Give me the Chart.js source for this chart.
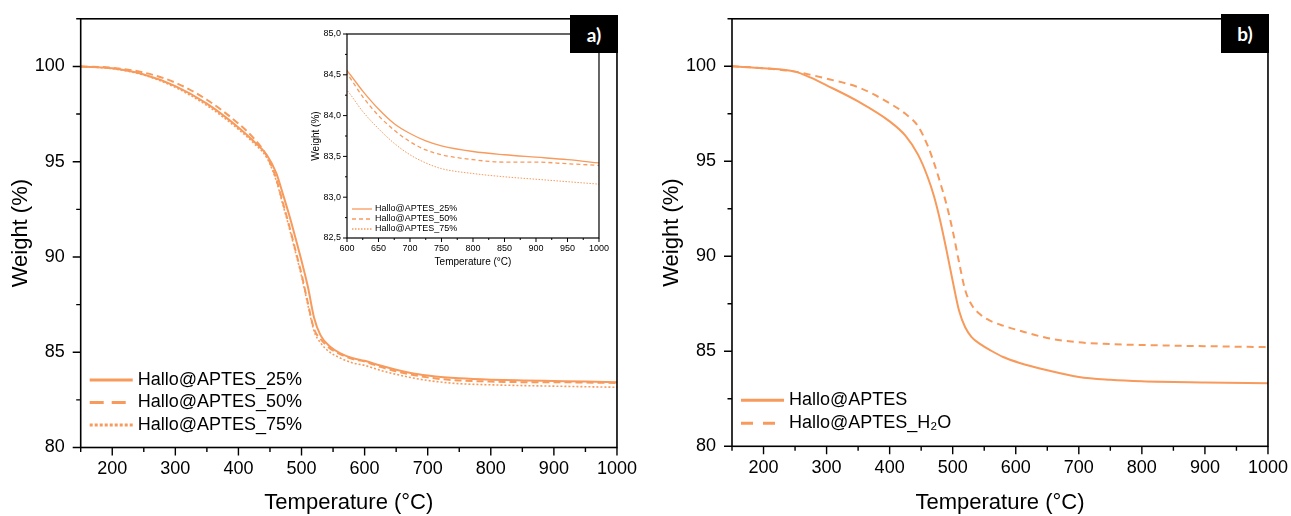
<!DOCTYPE html>
<html>
<head>
<meta charset="utf-8">
<script src="https://cdn.jsdelivr.net/npm/chart.js@4/dist/chart.umd.min.js"></script>
<style>
    body { margin: 0; background: #fff; }
    #wrap { position: relative; width: 1291px; height: 516px; overflow: hidden; }
    canvas { position: absolute; }
    .tag {
        position: absolute; background: #000; color: #fff;
        font: bold 19px Lato, 'Open Sans', sans-serif;
        display: flex; align-items: center; justify-content: center;
    }
</style>
</head>
<body>
<div id="wrap">
    <canvas id="chartA" width="640" height="516" style="left:0;top:0"></canvas>
    <canvas id="chartB" width="641" height="516" style="left:650px;top:0"></canvas>
    <canvas id="inset" width="310" height="250" style="left:300px;top:20px"></canvas>
    <div class="tag" style="left:570px;top:15px;width:48px;height:38px">a)</div>
    <div class="tag" style="left:1221px;top:14px;width:48px;height:39px">b)</div>
</div>
<script>
// a) Hallo@APTES loadings
const tempA = [150, 200, 250, 300, 350, 400, 425, 445, 460, 470, 480, 490, 500, 510, 520, 530, 545, 560, 580, 600, 625, 650, 675, 700, 725, 750, 800, 850, 900, 950, 1000];
const w25 = [100, 99.9, 99.58, 98.97, 98.05, 96.8, 96.05, 95.35, 94.4, 93.35, 92.25, 91.05, 89.8, 88.45, 86.8, 85.9, 85.3, 84.97, 84.7, 84.55, 84.3, 84.08, 83.9, 83.78, 83.69, 83.63, 83.56, 83.52, 83.49, 83.46, 83.42];
const w50 = [100, 99.93, 99.68, 99.15, 98.25, 97.0, 96.2, 95.3, 94.1, 92.9, 91.7, 90.4, 89.1, 87.6, 86.2, 85.7, 85.2, 84.92, 84.65, 84.51, 84.23, 84.0, 83.82, 83.68, 83.58, 83.52, 83.46, 83.43, 83.43, 83.41, 83.39];
const w75 = [100, 99.88, 99.55, 98.9, 97.95, 96.7, 95.95, 95.2, 94.0, 92.8, 91.6, 90.3, 89.0, 87.5, 86.1, 85.5, 85.0, 84.72, 84.45, 84.31, 84.05, 83.84, 83.66, 83.52, 83.42, 83.35, 83.29, 83.25, 83.22, 83.19, 83.16];

// b) with / without water
const tempB = [150, 200, 250, 275, 300, 350, 400, 425, 445, 460, 470, 480, 490, 500, 510, 520, 530, 545, 560, 580, 605, 650, 700, 750, 800, 900, 1000];
const wAptes = [100, 99.9, 99.72, 99.4, 99.0, 98.15, 97.1, 96.35, 95.35, 94.2, 93.2, 91.9, 90.35, 88.7, 87.15, 86.25, 85.75, 85.35, 85.05, 84.7, 84.4, 84.0, 83.65, 83.5, 83.42, 83.36, 83.32];
const wAptesH2O = [100, 99.9, 99.72, 99.55, 99.35, 98.9, 98.05, 97.5, 96.85, 95.85, 94.95, 93.9, 92.75, 91.35, 89.7, 88.2, 87.45, 86.9, 86.6, 86.35, 86.1, 85.7, 85.47, 85.38, 85.33, 85.27, 85.22];

const labelsA = ['Hallo@APTES_25%', 'Hallo@APTES_50%', 'Hallo@APTES_75%'];
const labelsB = ['Hallo@APTES', 'Hallo@APTES_H\u2082O'];

const FONT = "'Liberation Sans', Arial, sans-serif";
const ORANGE = '#F79A5C';

const pairs = (xs, ys) => xs.map((x, i) => ({ x: x, y: ys[i] }));
const onStep = (v, step) => Math.abs(v / step - Math.round(v / step)) < 1e-6;

// frame + major/minor tick marks drawn from the scales
const frameTicks = {
    id: 'frameTicks',
    afterDatasetsDraw(chart, args, o) {
        const { ctx, chartArea: a, scales } = chart;
        ctx.save();
        ctx.strokeStyle = '#000';
        ctx.lineWidth = o.tickWidth;
        ctx.beginPath();
        scales.x.ticks.forEach(t => {
            const px = scales.x.getPixelForValue(t.value);
            const len = onStep(t.value, o.majorX) ? o.major : o.minor;
            ctx.moveTo(px, a.bottom);
            ctx.lineTo(px, a.bottom + len);
        });
        scales.y.ticks.forEach(t => {
            const py = scales.y.getPixelForValue(t.value);
            const len = onStep(t.value, o.majorY) ? o.major : o.minor;
            ctx.moveTo(a.left, py);
            ctx.lineTo(a.left - len, py);
        });
        ctx.stroke();
        ctx.lineWidth = o.lineWidth;
        ctx.strokeRect(a.left, a.top, a.right - a.left, a.bottom - a.top);
        ctx.restore();
    },
};

// legend inside the plot, lower left
const innerLegend = {
    id: 'innerLegend',
    afterDatasetsDraw(chart, args, o) {
        const { ctx, chartArea: a } = chart;
        ctx.save();
        ctx.font = o.size + 'px ' + FONT;
        ctx.textBaseline = 'middle';
        chart.data.datasets.forEach((ds, i) => {
            const yy = a.bottom - o.bottom + i * o.gap;
            ctx.beginPath();
            ctx.setLineDash(ds.legendDash || []);
            ctx.lineWidth = o.lineWidth;
            ctx.strokeStyle = ds.borderColor;
            ctx.moveTo(a.left + o.x0, yy);
            ctx.lineTo(a.left + o.x1, yy);
            ctx.stroke();
            ctx.setLineDash([]);
            ctx.fillStyle = '#000';
            ctx.fillText(ds.label, a.left + o.tx, yy);
        });
        ctx.restore();
    },
};

const insetBg = {
    id: 'insetBg',
    beforeDatasetsDraw(chart) {
        const { ctx, chartArea: a } = chart;
        ctx.save();
        ctx.fillStyle = '#fff';
        ctx.fillRect(a.left, a.top, a.right - a.left, a.bottom - a.top);
        ctx.restore();
    },
};

const makeScales = cfg => ({
    x: {
        type: 'linear', min: cfg.xMin, max: cfg.xMax,
        afterFit: s => { s.height = cfg.xH; },
        ticks: {
            stepSize: cfg.xStep, autoSkip: false, maxRotation: 0, color: '#000',
            padding: cfg.xPad, font: { family: FONT, size: cfg.tickSize },
            callback: v => (onStep(v, cfg.xMajor) ? String(v) : ''),
        },
        grid: { drawOnChartArea: false, color: 'rgba(0,0,0,0)', tickLength: cfg.tick },
        border: { display: false },
        title: {
            display: true, text: 'Temperature (\u00B0C)', color: '#000',
            font: { family: FONT, size: cfg.titleSize }, padding: { top: 0, bottom: cfg.xTitlePad },
        },
    },
    y: {
        type: 'linear', min: cfg.yMin, max: cfg.yMax,
        afterFit: s => { s.width = cfg.yW; },
        ticks: {
            stepSize: cfg.yStep, autoSkip: false, color: '#000',
            padding: cfg.yPad, font: { family: FONT, size: cfg.tickSize },
            callback: v => (onStep(v, cfg.yMajor) ? cfg.yFmt(v) : ''),
        },
        grid: { drawOnChartArea: false, color: 'rgba(0,0,0,0)', tickLength: cfg.tick },
        border: { display: false },
        title: {
            display: true, text: 'Weight (%)', color: '#000',
            font: { family: FONT, size: cfg.titleSize }, padding: { top: cfg.yTitlePad, bottom: 0 },
        },
    },
});

const lineDs = (label, data, width, dash, legendDash) => ({
    label: label,
    data: data,
    borderColor: ORANGE,
    borderWidth: width,
    borderDash: dash,
    legendDash: legendDash,
    pointRadius: 0,
    cubicInterpolationMode: 'monotone',
    fill: false,
});

const baseOptions = (scales, pad, tickOpts, legendOpts) => ({
    responsive: false,
    animation: false,
    layout: { padding: pad },
    scales: scales,
    plugins: {
        legend: { display: false },
        tooltip: { enabled: false },
        frameTicks: tickOpts,
        innerLegend: legendOpts,
    },
});

const mainScale = (yW, xH, yTitlePad) => makeScales({
    xMin: 150, xMax: 1000, xStep: 50, xMajor: 100, xH: xH, xPad: 3, xTitlePad: 0,
    yMin: 80, yMax: 102.5, yStep: 2.5, yMajor: 5, yW: yW, yPad: 8, yTitlePad: yTitlePad,
    yFmt: v => String(v), tick: 8, tickSize: 18, titleSize: 22,
});

// a)
new Chart(document.querySelector('#chartA'), {
    type: 'line',
    data: {
        datasets: [
            lineDs(labelsA[0], pairs(tempA, w25), 2, [], []),
            lineDs(labelsA[1], pairs(tempA, w50), 2, [7, 4], [14, 8]),
            lineDs(labelsA[2], pairs(tempA, w75), 1.6, [2, 2], [3, 2]),
        ],
    },
    options: baseOptions(
        mainScale(80.7, 68.5, 8),
        { top: 16, right: 22.3, left: 0, bottom: 0 },
        { majorX: 100, majorY: 5, major: 8, minor: 4.5, tickWidth: 1.4, lineWidth: 1.6 },
        { size: 18, bottom: 67.5, gap: 22.5, x0: 9, x1: 52, tx: 57, lineWidth: 3 }
    ),
    plugins: [frameTicks, innerLegend],
});

// b)
new Chart(document.querySelector('#chartB'), {
    type: 'line',
    data: {
        datasets: [
            lineDs(labelsB[0], pairs(tempB, wAptes), 2, [], []),
            lineDs(labelsB[1], pairs(tempB, wAptesH2O), 2, [7, 5], [12, 10]),
        ],
    },
    options: baseOptions(
        mainScale(82, 69.7, 9),
        { top: 14, right: 22, left: 0, bottom: 0 },
        { majorX: 100, majorY: 5, major: 8, minor: 4.5, tickWidth: 1.4, lineWidth: 1.6 },
        { size: 18, bottom: 46, gap: 23, x0: 9, x1: 52, tx: 57, lineWidth: 3 }
    ),
    plugins: [frameTicks, innerLegend],
});

// inset of a), 600-1000 °C
new Chart(document.querySelector('#inset'), {
    type: 'line',
    data: {
        datasets: [
            lineDs(labelsA[0], pairs(tempA, w25), 1.3, [], []),
            lineDs(labelsA[1], pairs(tempA, w50), 1.3, [4, 3], [4, 3]),
            lineDs(labelsA[2], pairs(tempA, w75), 1, [1.5, 1.5], [1.5, 1.5]),
        ],
    },
    options: baseOptions(
        makeScales({
            xMin: 600, xMax: 1000, xStep: 25, xMajor: 50, xH: 32, xPad: 1, xTitlePad: 1.3,
            yMin: 82.5, yMax: 85, yStep: 0.25, yMajor: 0.5, yW: 47, yPad: 2, yTitlePad: 10.7,
            yFmt: v => v.toFixed(1).replace('.', ','), tick: 4, tickSize: 9, titleSize: 10,
        }),
        { top: 14, right: 7, left: 0, bottom: 0 },
        { majorX: 50, majorY: 0.5, major: 4, minor: 2, tickWidth: 1, lineWidth: 1.2 },
        { size: 9, bottom: 29, gap: 10, x0: 5, x1: 25, tx: 28, lineWidth: 1.3 }
    ),
    plugins: [insetBg, frameTicks, innerLegend],
});
</script>
</body>
</html>
